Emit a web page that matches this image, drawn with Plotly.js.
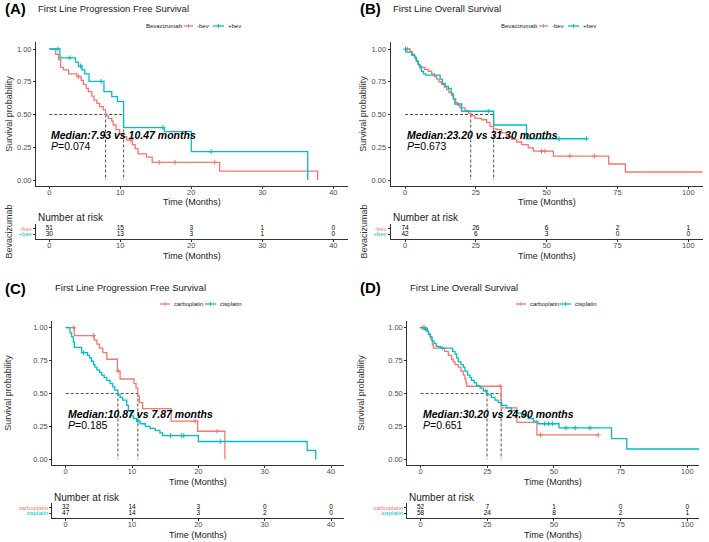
<!DOCTYPE html>
<html>
<head>
<meta charset="utf-8">
<script src="https://cdn.plot.ly/plotly-3.0.1.min.js"></script>
<style>
  html, body { margin: 0; padding: 0; background: #fff; }
  #chart { width: 709px; height: 542px; }
</style>
</head>
<body>
<div id="chart"></div>
<script>
// ---- Kaplan-Meier step data: event times (months) and survival after each step ----

// (A) first line PFS, bevacizumab
const aNegT = [0, 0.9, 1.3, 1.6, 2.0, 2.7, 3.9, 4.5, 4.8, 5.2, 5.5, 6.0, 6.3, 6.7, 7.1, 7.6, 7.93, 8.3, 8.8, 9.0, 9.4, 9.9, 10.4, 10.9, 11.7, 12.1, 12.5, 13.7, 14.5, 24.0, 37.8];
const aNegS = [1, 0.96, 0.92, 0.86, 0.84, 0.81, 0.79, 0.76, 0.73, 0.70, 0.675, 0.64, 0.61, 0.585, 0.56, 0.535, 0.49, 0.47, 0.45, 0.42, 0.385, 0.355, 0.33, 0.305, 0.27, 0.24, 0.20, 0.175, 0.135, 0.068, 0];
const aNegCens = [4.1, 11.5, 15.5, 17.7, 23.3];
const aPosT = [0, 1.5, 3.7, 4.1, 4.6, 5.0, 5.6, 7.7, 8.8, 9.6, 10.47, 16.2, 20.0, 36.4];
const aPosS = [1, 0.933, 0.90, 0.87, 0.84, 0.81, 0.753, 0.674, 0.636, 0.598, 0.40, 0.37, 0.216, 0];
const aPosCens = [1.2, 2.9, 4.4, 7.3, 16.0, 22.8];
const aMedians = [7.93, 10.47];
const aP = '0.074';
const aRiskTimes = [0, 10, 20, 30, 40];
const aRiskNeg = [51, 15, 3, 1, 0];
const aRiskPos = [30, 13, 3, 1, 0];

// (B) first line OS, bevacizumab
const bNegT = [0, 1.8, 2.6, 3.3, 3.9, 4.5, 5.0, 5.9, 7.0, 8.2, 9.4, 10.4, 11.2, 12.0, 12.9, 13.9, 14.7, 15.5, 16.5, 17.2, 17.9, 18.6, 19.4, 21.2, 22.4, 23.2, 24.7, 27.0, 28.8, 30.0, 31.2, 32.4, 34.1, 35.9, 37.6, 39.4, 41.2, 43.5, 45.3, 52.4, 71.9, 77.8, 105.0];
const bNegS = [1, 0.98, 0.96, 0.94, 0.91, 0.885, 0.87, 0.86, 0.845, 0.83, 0.81, 0.79, 0.77, 0.75, 0.73, 0.71, 0.69, 0.67, 0.645, 0.62, 0.59, 0.57, 0.55, 0.53, 0.51, 0.49, 0.47, 0.46, 0.44, 0.41, 0.39, 0.385, 0.36, 0.33, 0.31, 0.29, 0.27, 0.245, 0.22, 0.183, 0.122, 0.061, 0.061];
const bNegCens = [0.8, 48.2, 49.4, 58.2, 66.8];
const bPosT = [0, 0.3, 2.4, 3.5, 4.1, 4.7, 5.3, 5.8, 6.5, 7.3, 12.4, 13.2, 14.2, 15.3, 16.3, 17.0, 17.6, 20.0, 31.3, 42.9, 64.1];
const bPosS = [1, 0.976, 0.952, 0.93, 0.905, 0.88, 0.855, 0.83, 0.81, 0.80, 0.77, 0.735, 0.715, 0.70, 0.66, 0.62, 0.58, 0.525, 0.42, 0.315, 0.315];
const bPosCens = [0.2, 29.4, 54.4, 64.1];
const bMedians = [23.20, 31.30];
const bP = '0.673';
const bRiskTimes = [0, 25, 50, 75, 100];
const bRiskNeg = [74, 26, 6, 2, 1];
const bRiskPos = [42, 6, 3, 0, 0];

// (C) first line PFS, platinum agent
const cCarboT = [0, 1.3, 4.3, 4.7, 5.1, 5.6, 6.2, 7.8, 8.2, 10.3, 10.6, 10.87, 11.1, 11.6, 15.9, 19.9, 24.0];
const cCarboS = [1, 0.94, 0.905, 0.875, 0.845, 0.81, 0.76, 0.67, 0.61, 0.575, 0.54, 0.48, 0.43, 0.385, 0.29, 0.213, 0];
const cCarboCens = [1.2, 4.2, 7.9, 19.5, 22.8];
const cCisT = [0, 0.65, 0.9, 1.15, 1.3, 2.4, 3.3, 3.6, 3.9, 4.2, 4.4, 4.7, 5.1, 5.4, 5.8, 6.2, 6.7, 7.1, 7.4, 7.87, 8.2, 8.6, 9.2, 9.45, 9.85, 10.2, 10.7, 11.2, 12.0, 12.7, 13.5, 14.2, 14.6, 20.0, 36.4, 37.7];
const cCisS = [1, 0.96, 0.93, 0.89, 0.85, 0.81, 0.79, 0.77, 0.745, 0.72, 0.70, 0.68, 0.66, 0.64, 0.62, 0.60, 0.575, 0.55, 0.525, 0.49, 0.47, 0.45, 0.41, 0.37, 0.33, 0.31, 0.29, 0.27, 0.25, 0.235, 0.22, 0.20, 0.18, 0.135, 0.068, 0];
const cCisCens = [2.7, 10.9, 15.8, 17.5, 17.8, 23.3];
const cMedians = [10.87, 7.87];
const cP = '0.185';
const cRiskTimes = [0, 10, 20, 30, 40];
const cRiskCarbo = [32, 14, 3, 0, 0];
const cRiskCis = [47, 14, 3, 2, 0];

// (D) first line OS, platinum agent
const dCarboT = [0, 2.2, 2.9, 3.5, 3.9, 4.4, 4.8, 9.0, 10.4, 11.6, 12.2, 12.9, 14.1, 15.1, 16.0, 16.6, 17.0, 17.3, 30.2, 36.1, 43.6, 66.6];
const dCarboS = [1, 0.975, 0.95, 0.93, 0.91, 0.87, 0.845, 0.82, 0.79, 0.76, 0.74, 0.72, 0.70, 0.67, 0.64, 0.61, 0.58, 0.555, 0.39, 0.28, 0.185, 0.185];
const dCarboCens = [0.5, 1.2, 1.6, 8.1, 29.8, 45.0, 66.6];
const dCisT = [0, 1.2, 2.5, 3.0, 3.6, 4.3, 5.0, 5.8, 6.5, 7.5, 12.0, 12.9, 13.5, 14.1, 15.1, 16.0, 16.6, 17.6, 18.5, 19.1, 20.1, 21.0, 22.3, 23.5, 24.9, 26.6, 27.9, 29.1, 30.4, 32.3, 34.1, 36.0, 37.9, 40.4, 42.3, 43.9, 51.9, 71.6, 77.3, 104.5];
const dCisS = [1, 0.99, 0.97, 0.95, 0.93, 0.90, 0.88, 0.86, 0.855, 0.845, 0.82, 0.80, 0.77, 0.74, 0.72, 0.70, 0.67, 0.64, 0.62, 0.60, 0.58, 0.56, 0.54, 0.52, 0.49, 0.47, 0.45, 0.43, 0.41, 0.39, 0.37, 0.35, 0.33, 0.31, 0.29, 0.27, 0.238, 0.157, 0.078, 0.078];
const dCisCens = [2.0, 24.5, 46.5, 48.0, 49.5, 54.5, 58.0, 63.5];
const dMedians = [30.20, 24.90];
const dP = '0.651';
const dRiskTimes = [0, 25, 50, 75, 100];
const dRiskCarbo = [52, 7, 1, 0, 0];
const dRiskCis = [58, 24, 8, 2, 1];

const survTicks = [0, 0.25, 0.5, 0.75, 1];

// ---- styling ----
const FONT = 'Liberation Sans, Arial, sans-serif';
const RED = '#F8766D';
const TEAL = '#00BFC4';
const AXIS = '#333333';
const TICKTXT = '#4D4D4D';
const W = 709, H = 542;
const px = v => v / W;
const py = v => 1 - v / H;

// survival value of a step curve at time t
function stepAt(T, S, t) {
  let v = S[0];
  for (let i = 0; i < T.length; i++) { if (T[i] <= t) v = S[i]; else break; }
  return v;
}

const traces = [];

function addCurve(T, S, cens, color, xa, ya) {
  traces.push({
    type: 'scatter', mode: 'lines', x: T, y: S, xaxis: xa, yaxis: ya,
    line: { color: color, width: 1.3, shape: 'hv' }, showlegend: false, hoverinfo: 'skip'
  });
  traces.push({
    type: 'scatter', mode: 'markers', x: cens, y: cens.map(t => stepAt(T, S, t)),
    xaxis: xa, yaxis: ya, showlegend: false, hoverinfo: 'skip',
    marker: { symbol: 'cross-thin', size: 3.5, color: color, line: { color: color, width: 1 } }
  });
}

function addMedianGuides(meds, xa, ya) {
  const mx = Math.max(...meds);
  traces.push({
    type: 'scatter', mode: 'lines', xaxis: xa, yaxis: ya, showlegend: false, hoverinfo: 'skip',
    x: [0, mx, null, meds[0], meds[0], null, meds[1], meds[1]],
    y: [0.5, 0.5, null, 0.5, 0, null, 0.5, 0],
    line: { color: '#222', width: 0.8, dash: '3px,2px' }
  });
}

// rows of the risk table sit at y = 2.1 (first group) and y = 1 (second group)
function addRisk(times, top, bottom, xa, ya) {
  [[top, 2.1], [bottom, 1]].forEach(([vals, row]) => {
    traces.push({
      type: 'scatter', mode: 'text', x: times, y: times.map(() => row), text: vals.map(String),
      xaxis: xa, yaxis: ya, showlegend: false, hoverinfo: 'skip', cliponaxis: false,
      textfont: { family: FONT, size: 6.5, color: '#000' }
    });
  });
}

addMedianGuides(aMedians, 'x', 'y');
addCurve(aNegT, aNegS, aNegCens, RED, 'x', 'y');
addCurve(aPosT, aPosS, aPosCens, TEAL, 'x', 'y');
addRisk(aRiskTimes, aRiskNeg, aRiskPos, 'x5', 'y5');

addMedianGuides(bMedians, 'x2', 'y2');
addCurve(bNegT, bNegS, bNegCens, RED, 'x2', 'y2');
addCurve(bPosT, bPosS, bPosCens, TEAL, 'x2', 'y2');
addRisk(bRiskTimes, bRiskNeg, bRiskPos, 'x6', 'y6');

addMedianGuides(cMedians, 'x3', 'y3');
addCurve(cCarboT, cCarboS, cCarboCens, RED, 'x3', 'y3');
addCurve(cCisT, cCisS, cCisCens, TEAL, 'x3', 'y3');
addRisk(cRiskTimes, cRiskCarbo, cRiskCis, 'x7', 'y7');

addMedianGuides(dMedians, 'x4', 'y4');
addCurve(dCarboT, dCarboS, dCarboCens, RED, 'x4', 'y4');
addCurve(dCisT, dCisS, dCisCens, TEAL, 'x4', 'y4');
addRisk(dRiskTimes, dRiskCarbo, dRiskCis, 'x8', 'y8');

// ---- axes ----
function xAxis(domain, range, ticks, anchor) {
  return {
    domain: domain, range: range, tickvals: ticks, anchor: anchor,
    showline: true, linecolor: AXIS, linewidth: 1, ticks: 'outside', ticklen: 2, tickcolor: AXIS,
    ticklabelstandoff: -3,
    tickfont: { family: FONT, size: 7.5, color: TICKTXT }, showgrid: false, zeroline: false,
    title: { text: '' }
  };
}
function yAxis(domain, anchor, standoff) {
  return {
    domain: domain, range: [-0.0435, 1.05], tickvals: survTicks, tickformat: '.2f', anchor: anchor,
    showline: true, linecolor: AXIS, linewidth: 1, ticks: 'outside', ticklen: 2, tickcolor: AXIS,
    tickfont: { family: FONT, size: 7.5, color: TICKTXT }, showgrid: false, zeroline: false,
    title: { text: 'Survival probability', font: { family: FONT, size: 9, color: '#333' }, standoff: standoff }
  };
}
function riskY(domain, anchor, labels, title) {
  return {
    domain: domain, range: [0, 3], tickvals: [1, 2.1], anchor: anchor,
    ticktext: [`<span style="color:${TEAL}">${labels[1]}</span>`, `<span style="color:${RED}">${labels[0]}</span>`],
    showline: true, linecolor: AXIS, linewidth: 1, ticks: 'outside', ticklen: 2, tickcolor: AXIS,
    tickfont: { family: FONT, size: 6 }, showgrid: false, zeroline: false,
    title: { text: title, font: { family: FONT, size: 9, color: '#333' }, standoff: 4 }
  };
}

const xdA = [px(36), px(348)], xdB = [px(390.7), px(703.3)];
const xdC = [px(52.3), px(344.3)], xdD = [px(407.3), px(699.3)];
const ydTop = [py(185.7), py(42.45)], ydBot = [py(465), py(321.1)];
const rdTop = [py(239), py(224)], rdBot = [py(518.3), py(503.3)];
const rA = [-1.87, 42.07], rB = [-5.05, 105.3], rC = [-2.02, 42.0], rD = [-5.0, 104.5];

function label(xp, yp, text, size, color) {
  return { xref: 'paper', yref: 'paper', x: px(xp), y: py(yp), text: text, showarrow: false,
           xanchor: 'left', yanchor: 'middle', font: { family: FONT, size: size, color: color || '#000' } };
}
function timeTitle(xa, yp) {
  return { xref: xa + ' domain', yref: 'paper', x: 0.5, y: py(yp), text: 'Time (Months)', showarrow: false,
           xanchor: 'center', yanchor: 'middle', font: { family: FONT, size: 9, color: '#222' } };
}
function medianNote(xa, ya, meds, p) {
  return [
    { xref: xa, yref: ya, x: 0, y: 0.343, xanchor: 'left', yanchor: 'middle', showarrow: false,
      text: `<b><i>Median:${meds[0].toFixed(2)} vs ${meds[1].toFixed(2)} months</i></b>`,
      font: { family: FONT, size: 10.5, color: '#000' } },
    { xref: xa, yref: ya, x: 0, y: 0.257, xanchor: 'left', yanchor: 'middle', showarrow: false,
      text: `<i>P</i>=${p}`, font: { family: FONT, size: 10.5, color: '#000' } }
  ];
}

// group keys above each panel: title, then colour key + label per group
const annotations = [];
const shapes = [];
function groupKey(yp, title, titleX, items) {
  if (title) annotations.push(label(titleX, yp, title, 6, '#222'));
  items.forEach(it => {
    const [x0, x1, textX, color, text] = it;
    shapes.push({ type: 'line', xref: 'paper', yref: 'paper', x0: px(x0), x1: px(x1), y0: py(yp), y1: py(yp),
                  line: { color: color, width: 1.3 } });
    const xm = (x0 + x1) / 2;
    shapes.push({ type: 'line', xref: 'paper', yref: 'paper', x0: px(xm), x1: px(xm), y0: py(yp - 1.8), y1: py(yp + 1.8),
                  line: { color: color, width: 1 } });
    annotations.push(label(textX, yp, text, 6, '#222'));
  });
}
groupKey(26, 'Bevacizumab', 144, [[184, 193, 195, RED, '-bev'], [213, 224, 226, TEAL, '+bev']]);
groupKey(26, 'Bevacizumab', 499, [[539, 548, 550, RED, '-bev'], [568, 579, 581, TEAL, '+bev']]);
groupKey(304, '', 0, [[160, 170, 172, RED, 'carboplatin'], [205, 216, 218, TEAL, 'cisplatin']]);
groupKey(304, '', 0, [[516, 526, 528, RED, 'carboplatin'], [560, 571, 573, TEAL, 'cisplatin']]);

annotations.push(
  label(3, 9, '<b>(A)</b>', 15),
  label(36, 8.5, 'First Line Progression Free Survival', 9.5, '#222'),
  label(358, 9, '<b>(B)</b>', 15),
  label(391, 8.5, 'First Line Overall Survival', 9.5, '#222'),
  label(3, 288, '<b>(C)</b>', 15),
  label(53, 287.5, 'First Line Progression Free Survival', 9.5, '#222'),
  label(358, 287, '<b>(D)</b>', 15),
  label(408, 287.5, 'First Line Overall Survival', 9.5, '#222'),
  label(36, 217, 'Number at risk', 10, '#222'),
  label(391, 217, 'Number at risk', 10, '#222'),
  label(52, 497, 'Number at risk', 10, '#222'),
  label(407, 497, 'Number at risk', 10, '#222'),
  timeTitle('x', 202), timeTitle('x2', 202), timeTitle('x3', 481.5), timeTitle('x4', 481.5),
  timeTitle('x5', 255.5), timeTitle('x6', 255.5), timeTitle('x7', 534.5), timeTitle('x8', 534.5),
  ...medianNote('x', 'y', aMedians, aP),
  ...medianNote('x2', 'y2', bMedians, bP),
  ...medianNote('x3', 'y3', cMedians, cP),
  ...medianNote('x4', 'y4', dMedians, dP)
);

const layout = {
  width: W, height: H, margin: { l: 0, r: 0, t: 0, b: 0 },
  paper_bgcolor: '#fff', plot_bgcolor: '#fff',
  font: { family: FONT }, showlegend: false,
  xaxis: xAxis(xdA, rA, aRiskTimes, 'y'),
  yaxis: yAxis(ydTop, 'x', 2),
  xaxis2: xAxis(xdB, rB, bRiskTimes, 'y2'),
  yaxis2: yAxis(ydTop, 'x2', 3),
  xaxis3: xAxis(xdC, rC, cRiskTimes, 'y3'),
  yaxis3: yAxis(ydBot, 'x3', 20),
  xaxis4: xAxis(xdD, rD, dRiskTimes, 'y4'),
  yaxis4: yAxis(ydBot, 'x4', 22),
  xaxis5: xAxis(xdA, rA, aRiskTimes, 'y5'),
  yaxis5: riskY(rdTop, 'x5', ['-bev', '+bev'], 'Bevacizumab'),
  xaxis6: xAxis(xdB, rB, bRiskTimes, 'y6'),
  yaxis6: riskY(rdTop, 'x6', ['-bev', '+bev'], 'Bevacizumab'),
  xaxis7: xAxis(xdC, rC, cRiskTimes, 'y7'),
  yaxis7: riskY(rdBot, 'x7', ['carboplatin', 'cisplatin'], ''),
  xaxis8: xAxis(xdD, rD, dRiskTimes, 'y8'),
  yaxis8: riskY(rdBot, 'x8', ['carboplatin', 'cisplatin'], ''),
  annotations: annotations,
  shapes: shapes
};

Plotly.newPlot('chart', traces, layout, { staticPlot: true, displayModeBar: false });
</script>
</body>
</html>
